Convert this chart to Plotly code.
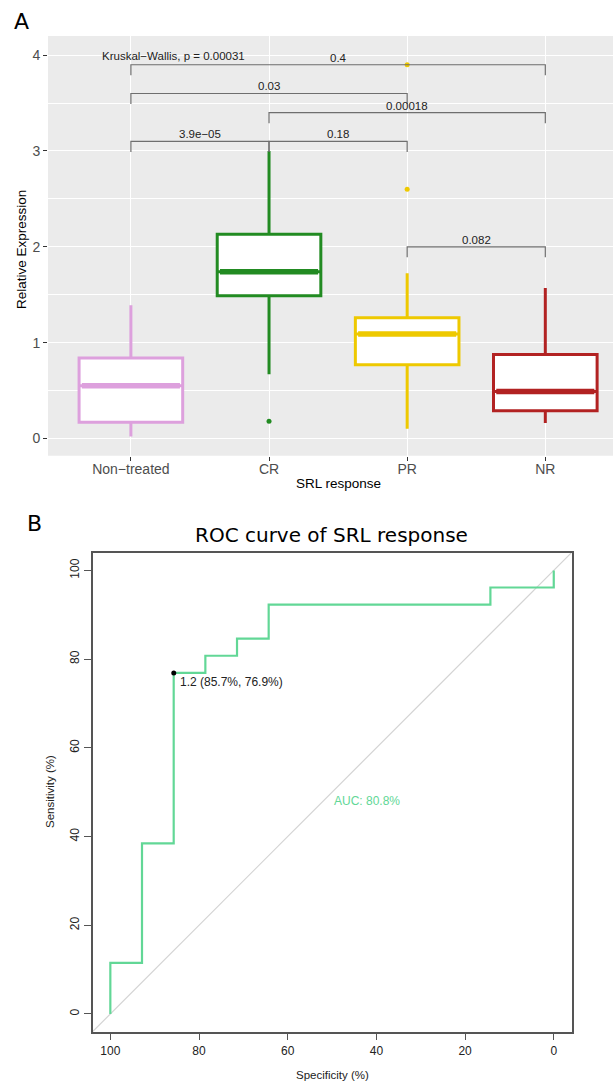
import plotly.graph_objects as go

# ---------------- data: panel A (box plot summary) ----------------
groups = ["Non\u2212treated", "CR", "PR", "NR"]
q1 = [0.17, 1.49, 0.77, 0.29]
medians = [0.55, 1.74, 1.09, 0.49]
q3 = [0.84, 2.13, 1.26, 0.875]
lower_whisker = [0.02, 0.67, 0.10, 0.16]
upper_whisker = [1.39, 3.00, 1.725, 1.57]
outlier_group = [1, 2, 2]
outlier_value = [0.18, 2.60, 3.90]
box_colors = ["#DDA0DD", "#228B22", "#EEC900", "#B22222"]

# pairwise comparisons (group index from/to, p label, bracket height)
comp_from = [2, 0, 1, 0, 1, 0]
comp_to = [3, 1, 2, 2, 3, 3]
comp_p = ["0.082", "3.9e\u221205", "0.18", "0.03", "0.00018", "0.4"]
comp_y = [2.0, 3.1, 3.1, 3.6, 3.4, 3.9]
kruskal_label = "Kruskal\u2212Wallis, p = 0.00031"

# ---------------- data: panel B (ROC) ----------------
roc_specificity = [100, 100, 92.86, 92.86, 85.71, 85.71, 78.57, 78.57, 71.43, 71.43,
                   64.29, 64.29, 14.29, 14.29, 0, 0]
roc_sensitivity = [0, 11.54, 11.54, 38.46, 38.46, 76.92, 76.92, 80.77, 80.77, 84.62,
                   84.62, 92.31, 92.31, 96.15, 96.15, 100]
best_threshold = 1.2
best_spec = 85.7
best_sens = 76.9
auc_value = 80.8

W, H = 613, 1084
def px(x):
    return x / W
def py(y):
    return 1 - y / H

FONT = "Liberation Sans, Arial, sans-serif"
TITLE_FONT = "DejaVu Sans, Verdana, sans-serif"
roc_color = "#62D796"

fig = go.Figure()

# ---- panel A boxes ----
for i, g in enumerate(groups):
    fig.add_trace(go.Box(
        x=[i], q1=[q1[i]], median=[medians[i]], q3=[q3[i]],
        lowerfence=[lower_whisker[i]], upperfence=[upper_whisker[i]],
        width=0.75, whiskerwidth=0, boxpoints=False,
        line=dict(color=box_colors[i], width=3), fillcolor="white",
        xaxis="x", yaxis="y", showlegend=False, hoverinfo="skip"))
    # thicker median line (ggplot fatten)
    fig.add_trace(go.Scatter(
        x=[i - 0.375 + 0.02, i + 0.375 - 0.02], y=[medians[i], medians[i]], mode="lines",
        line=dict(color=box_colors[i], width=5.5), xaxis="x", yaxis="y",
        showlegend=False, hoverinfo="skip"))

fig.add_trace(go.Scatter(
    x=outlier_group, y=outlier_value, mode="markers",
    marker=dict(color=[box_colors[g] for g in outlier_group], size=5),
    xaxis="x", yaxis="y", showlegend=False, hoverinfo="skip"))

# brackets
tip = 0.11
annotations = []
for a, b, p, yv in zip(comp_from, comp_to, comp_p, comp_y):
    fig.add_trace(go.Scatter(
        x=[a, a, b, b], y=[yv - tip, yv, yv, yv - tip], mode="lines",
        line=dict(color="#6E6E6E", width=1.2), xaxis="x", yaxis="y",
        showlegend=False, hoverinfo="skip"))
    annotations.append(dict(x=(a + b) / 2, y=yv, xref="x", yref="y", text=p,
                            showarrow=False, yanchor="bottom", yshift=-1,
                            font=dict(family=FONT, size=11.5, color="#222222")))
annotations.append(dict(x=0.31, y=3.99, xref="x", yref="y", text=kruskal_label,
                        showarrow=False, yanchor="middle",
                        font=dict(family=FONT, size=11.5, color="#222222")))

# ---- panel B ROC ----
fig.add_trace(go.Scatter(
    x=[104, -4], y=[100 - 104, 100 + 4], mode="lines",
    line=dict(color="#D3D3D3", width=1.2), xaxis="x2", yaxis="y2",
    showlegend=False, hoverinfo="skip"))
fig.add_trace(go.Scatter(
    x=roc_specificity, y=roc_sensitivity, mode="lines",
    line=dict(color=roc_color, width=2.2), xaxis="x2", yaxis="y2",
    showlegend=False, hoverinfo="skip"))
fig.add_trace(go.Scatter(
    x=[best_spec], y=[best_sens], mode="markers",
    marker=dict(color="black", size=5), xaxis="x2", yaxis="y2",
    showlegend=False, hoverinfo="skip"))
annotations.append(dict(x=best_spec, y=best_sens, xref="x2", yref="y2",
                        text=f"{best_threshold} ({best_spec}%, {best_sens}%)",
                        showarrow=False, xanchor="left", yanchor="top",
                        xshift=4, yshift=0,
                        font=dict(family=FONT, size=12, color="#222222")))
annotations.append(dict(x=50, y=50, xref="x2", yref="y2",
                        text=f"AUC: {auc_value}%",
                        showarrow=False, xanchor="left", yanchor="top",
                        font=dict(family=FONT, size=12, color=roc_color)))

# ---- titles / labels as paper annotations ----
annotations += [
    dict(x=px(12), y=py(21), xref="paper", yref="paper", text="A", showarrow=False,
         xanchor="left", yanchor="middle", font=dict(family=TITLE_FONT, size=22, color="black")),
    dict(x=px(22), y=py(250), xref="paper", yref="paper", text="Relative Expression",
         showarrow=False, textangle=-90, xanchor="center", yanchor="middle",
         font=dict(family=FONT, size=13.5, color="black")),
    dict(x=px(338), y=py(484), xref="paper", yref="paper", text="SRL response",
         showarrow=False, xanchor="center", yanchor="middle",
         font=dict(family=FONT, size=13.5, color="black")),
    dict(x=px(25), y=py(523), xref="paper", yref="paper", text="B", showarrow=False,
         xanchor="left", yanchor="middle", font=dict(family=TITLE_FONT, size=22, color="black")),
    dict(x=px(331), y=py(535), xref="paper", yref="paper", text="ROC curve of SRL response",
         showarrow=False, xanchor="center", yanchor="middle",
         font=dict(family=TITLE_FONT, size=20, color="black")),
    dict(x=px(50), y=py(792), xref="paper", yref="paper", text="Sensitivity (%)",
         showarrow=False, textangle=-90, xanchor="center", yanchor="middle",
         font=dict(family=FONT, size=11.5, color="#222222")),
    dict(x=px(332), y=py(1075), xref="paper", yref="paper", text="Specificity (%)",
         showarrow=False, xanchor="center", yanchor="middle",
         font=dict(family=FONT, size=11.5, color="#222222")),
]

shapes = [dict(type="rect", xref="x domain", yref="y domain", x0=0, x1=1, y0=0, y1=1,
               fillcolor="#EBEBEB", line=dict(width=0), layer="below")]

fig.update_layout(
    width=W, height=H, margin=dict(l=0, r=0, t=0, b=0),
    paper_bgcolor="white", plot_bgcolor="white",
    showlegend=False, boxmode="overlay",
    annotations=annotations, shapes=shapes,
    xaxis=dict(domain=[px(48), 1.0], range=[-0.6, 3.49], anchor="y",
               tickmode="array", tickvals=list(range(len(groups))), ticktext=groups,
               showgrid=True, gridcolor="white", gridwidth=1.1, zeroline=False,
               ticks="outside", ticklen=4, tickcolor="#333333", ticklabelstandoff=-4,
               tickfont=dict(family=FONT, size=14, color="#4D4D4D"), showline=False),
    yaxis=dict(domain=[py(455.7), py(36)], range=[-0.18, 4.2], anchor="x",
               tickmode="array", tickvals=[0, 1, 2, 3, 4],
               showgrid=True, gridcolor="white", gridwidth=1.1, zeroline=False,
               minor=dict(tickmode="array", tickvals=[0.5, 1.5, 2.5, 3.5],
                          showgrid=True, gridcolor="white", gridwidth=0.5, ticks=""),
               ticks="outside", ticklen=4, tickcolor="#333333",
               tickfont=dict(family=FONT, size=14, color="#4D4D4D"), showline=False),
    xaxis2=dict(domain=[px(92.6), px(571.5)], range=[104, -4], anchor="y2",
                tickmode="array", tickvals=[100, 80, 60, 40, 20, 0],
                showgrid=False, zeroline=False, ticks="outside", ticklen=7,
                tickcolor="#555555", tickwidth=1,
                showline=True, linecolor="#555555", linewidth=1.5, mirror=True,
                tickfont=dict(family=FONT, size=12, color="#222222")),
    yaxis2=dict(domain=[py(1031.7), py(552.7)], range=[-4, 104], anchor="x2",
                tickmode="array", tickvals=[0, 20, 40, 60, 80, 100], tickangle=-90,
                showgrid=False, zeroline=False, ticks="outside", ticklen=7,
                tickcolor="#555555", tickwidth=1,
                showline=True, linecolor="#555555", linewidth=1.5, mirror=True,
                tickfont=dict(family=FONT, size=12, color="#222222")),
)

fig.write_html("out.html")
